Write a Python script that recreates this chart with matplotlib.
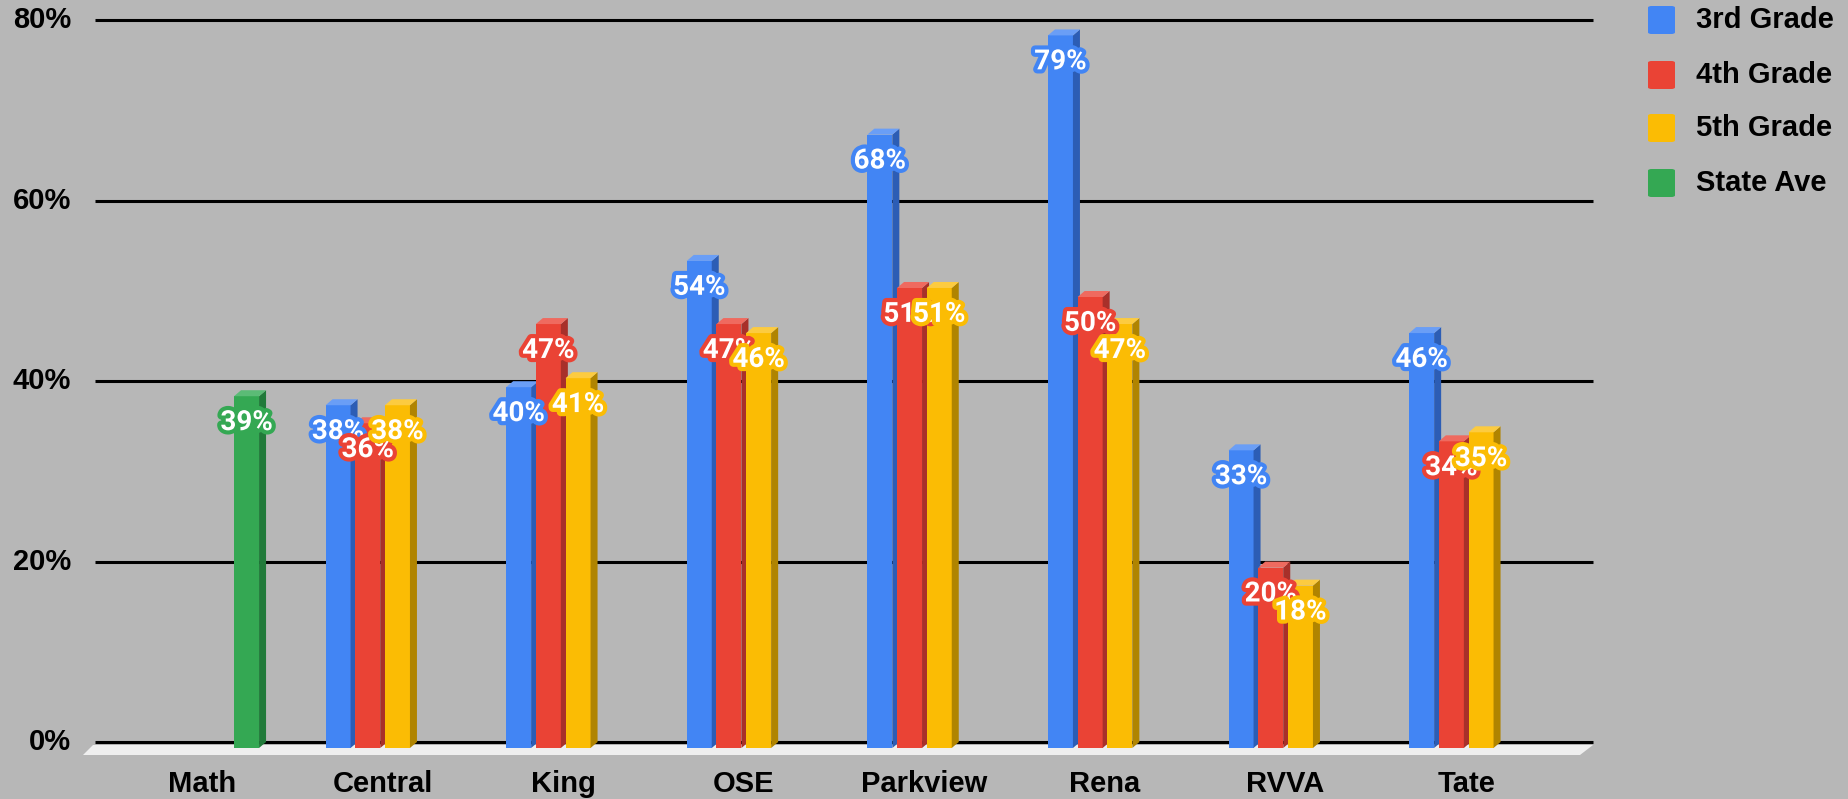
import numpy as np
import matplotlib
matplotlib.use("Agg")
import matplotlib.pyplot as plt
from matplotlib.patches import Polygon, FancyBboxPatch
import matplotlib.patheffects as pe

# data
schools = ["Math", "Central", "King", "OSE", "Parkview", "Rena", "RVVA", "Tate"]
series = ["3rd Grade", "4th Grade", "5th Grade", "State Ave"]
grade3 = [np.nan, 38, 40, 54, 68, 79, 33, 46]
grade4 = [np.nan, 36, 47, 47, 51, 50, 20, 34]
grade5 = [np.nan, 38, 41, 46, 51, 47, 18, 35]
state_ave = [39, np.nan, np.nan, np.nan, np.nan, np.nan, np.nan, np.nan]
yticks = [0, 20, 40, 60, 80]

colors = ["#4285f4", "#ea4335", "#fbbc04", "#34a853"]
sides = ["#2c5db5", "#a8302a", "#b08400", "#217a3a"]
tops = ["#6a9ef6", "#ef6a5f", "#fccb40", "#5bbb76"]
bg = "#b7b7b7"

W, H = 1849, 799
fig = plt.figure(figsize=(W / 100, H / 100), dpi=100)
fig.patch.set_facecolor(bg)
ax = fig.add_axes([0, 0, 1, 1])
ax.set_facecolor(bg)
ax.axis("off")

# pixel layout -> data units
x0px, xstep = 202, 180.6      # category centre of first group, spacing
y0px, ystep = 748, 9.02       # pixel row of 0 (front), px per percent
ax.set_xlim(-x0px / xstep, (W - x0px) / xstep)
ax.set_ylim((y0px - H) / ystep, y0px / ystep)

def px_x(p):
    return (p - x0px) / xstep

def px_y(p):
    return (y0px - p) / ystep

dx = 7 / xstep
dy = 6 / ystep
w = 25 / xstep
pitch = 29.7 / xstep

# floor
floor = Polygon([(px_x(93), px_y(745)), (px_x(1593), px_y(745)),
                 (px_x(1580), px_y(755)), (px_x(83), px_y(755))],
                closed=True, facecolor="#efefef", edgecolor="none", zorder=1)
ax.add_patch(floor)

# gridlines (back plane) and y tick labels
for t in yticks:
    ax.plot([px_x(95), px_x(1593)], [t + dy, t + dy], color="black", lw=2.2, zorder=2,
            solid_capstyle="butt")
    ax.text(px_x(71), t + dy, f"{t}%", ha="right", va="center", fontsize=21,
            fontweight="bold", family="Liberation Sans", color="black")

# category labels
for i, s in enumerate(schools):
    ax.text(i, px_y(784), s, ha="center", va="center", fontsize=21,
            fontweight="bold", family="Liberation Sans", color="black")

data = [grade3, grade4, grade5, state_ave]
z = 5
for i in range(len(schools)):
    for k, vals in enumerate(data):
        v = vals[i]
        if np.isnan(v):
            continue
        xc = i + (k - 1.5) * pitch
        ax.bar(xc, v, width=w, bottom=0, color=colors[k], edgecolor="none", zorder=z)
        xr = xc + w / 2
        xl = xc - w / 2
        ax.add_patch(Polygon([(xr, 0), (xr + dx, dy), (xr + dx, v + dy), (xr, v)],
                             closed=True, facecolor=sides[k], edgecolor="none", zorder=z))
        ax.add_patch(Polygon([(xl, v), (xl + dx, v + dy), (xr + dx, v + dy), (xr, v)],
                             closed=True, facecolor=tops[k], edgecolor="none", zorder=z))
        z += 1

# value labels
for k, vals in enumerate(data):
    for i, v in enumerate(vals):
        if np.isnan(v):
            continue
        xc = i + (k - 1.5) * pitch
        ax.annotate(f"{v:.0f}%", (xc, v), xytext=(0, -19), textcoords="offset points",
                    ha="center", va="center", fontsize=20, fontweight="bold",
                    family="Roboto", color="white", zorder=100 + k,
                    path_effects=[pe.withStroke(linewidth=6, foreground=colors[k])])

# legend
rows = [20, 75, 128, 183]
for k, name in enumerate(series):
    yc = H - rows[k]
    fig.patches.append(FancyBboxPatch((1648 / W, (yc - 14) / H), 27 / W, 28 / H,
                                      boxstyle="round,pad=0,rounding_size=0.002",
                                      transform=fig.transFigure, facecolor=colors[k],
                                      edgecolor="none"))
    fig.text(1696 / W, yc / H, name, ha="left", va="center", fontsize=21,
             fontweight="bold", family="Liberation Sans", color="black")

fig.savefig("out.png", dpi=100, facecolor=bg)
